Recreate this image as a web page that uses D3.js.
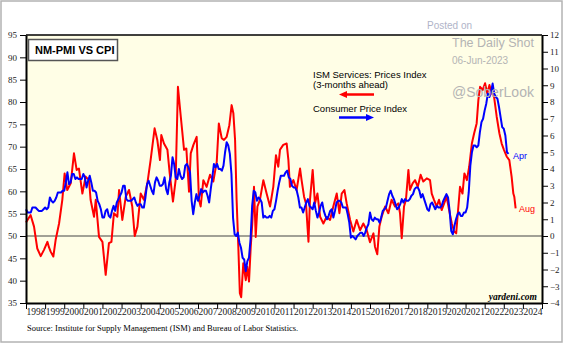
<!DOCTYPE html>
<html lang="en">
<head>
<meta charset="UTF-8">
<title>NM-PMI vs CPI</title>
<script src="https://d3js.org/d3.v7.min.js"></script>
<style>
  body { margin: 0; background: #fff; }
  .sans { font-family: "Liberation Sans", Arial, sans-serif; }
  .serif { font-family: "Liberation Serif", "Times New Roman", serif; }
  .axis text { font-family: "Liberation Serif", "Times New Roman", serif; font-size: 9px; fill: #222; }
  .axis path, .axis line { stroke: #000; }
</style>
</head>
<body>
<svg id="chart" width="564" height="344"></svg>
<script>
// ISM Services: Prices Index, shifted 3 months ahead  [decimal year, index]
const ismPrices = [
  [1998.00,53.0],[1998.24,54.7],[1998.42,52.1],[1998.59,47.2],[1998.77,45.5],[1998.94,46.9],
  [1999.12,48.7],[1999.20,47.5],[1999.29,46.5],[1999.43,45.4],[1999.55,49.1],[1999.73,52.8],[1999.90,58.1],
  [2000.02,64.0],[2000.16,60.3],[2000.34,61.8],[2000.51,68.5],[2000.65,64.8],[2000.77,65.1],[2000.95,59.5],
  [2001.12,63.3],[2001.30,62.5],[2001.38,58.1],[2001.56,54.3],[2001.65,58.1],[2001.82,49.8],
  [2002.00,48.7],[2002.17,41.3],[2002.34,48.4],[2002.47,48.7],[2002.60,55.1],[2002.78,54.3],[2002.87,60.3],
  [2003.04,53.6],[2003.22,58.8],[2003.39,60.3],[2003.56,56.6],[2003.69,50.0],[2003.83,52.1],
  [2004.00,59.5],[2004.17,58.1],[2004.35,61.8],[2004.52,67.0],[2004.73,74.1],[2004.87,71.5],
  [2005.01,67.0],[2005.08,72.6],[2005.22,70.7],[2005.40,69.3],[2005.52,64.0],[2005.69,57.7],[2005.83,62.5],[2005.95,83.4],
  [2006.10,76.7],[2006.27,69.3],[2006.39,69.6],[2006.53,59.9],[2006.62,68.5],[2006.76,70.4],[2006.93,72.2],
  [2007.05,58.1],[2007.14,56.6],[2007.28,62.5],[2007.45,61.0],[2007.63,63.7],[2007.80,62.2],[2007.98,66.6],
  [2008.09,75.2],[2008.24,71.9],[2008.36,71.5],[2008.50,72.2],[2008.64,74.8],[2008.76,79.3],[2008.85,77.5],[2008.94,71.5],
  [2009.02,58.1],[2009.11,47.6],[2009.19,37.2],[2009.26,36.3],[2009.37,43.9],[2009.50,40.1],[2009.58,43.1],
  [2009.67,39.8],[2009.76,47.6],[2009.84,52.8],[2009.93,61.0],
  [2010.02,49.8],[2010.11,56.6],[2010.24,58.1],[2010.42,62.5],[2010.59,59.5],[2010.77,56.6],[2010.94,61.0],
  [2011.08,68.1],[2011.20,65.5],[2011.29,69.3],[2011.46,70.4],[2011.64,70.7],[2011.73,67.0],[2011.81,61.0],[2011.99,62.5],
  [2012.16,60.3],[2012.34,65.1],[2012.42,62.5],[2012.55,58.8],[2012.65,57.3],[2012.78,48.7],[2012.86,58.1],
  [2013.00,64.8],[2013.12,57.3],[2013.25,59.5],[2013.39,54.3],[2013.56,52.8],[2013.73,54.3],[2013.91,53.6],
  [2014.08,56.6],[2014.26,59.5],[2014.40,55.1],[2014.52,59.5],[2014.66,60.3],[2014.78,57.3],[2014.96,53.6],
  [2015.13,51.0],[2015.30,53.6],[2015.48,51.3],[2015.65,52.8],[2015.83,51.3],
  [2016.00,48.6],[2016.18,50.6],[2016.26,47.6],[2016.38,45.9],[2016.49,52.1],[2016.61,54.3],[2016.79,56.6],[2016.96,55.1],
  [2017.13,58.1],[2017.31,56.6],[2017.48,57.3],[2017.57,55.1],[2017.66,49.5],[2017.78,56.6],[2017.88,58.1],
  [2018.01,64.8],[2018.09,60.3],[2018.23,61.8],[2018.36,62.5],[2018.50,61.0],[2018.65,63.7],[2018.79,62.2],[2018.97,62.9],
  [2019.14,62.5],[2019.23,59.5],[2019.35,58.1],[2019.49,56.6],[2019.61,58.1],[2019.75,55.8],[2019.88,57.3],
  [2020.01,58.8],[2020.14,55.8],[2020.28,52.8],[2020.40,51.0],[2020.51,50.6],[2020.58,54.3],[2020.71,61.0],[2020.84,59.5],[2020.94,64.0],
  [2021.07,62.5],[2021.19,65.5],[2021.33,70.7],[2021.45,73.0],[2021.58,75.2],[2021.67,80.4],[2021.76,83.4],[2021.90,82.7],
  [2022.02,84.2],[2022.14,81.9],[2022.25,83.8],[2022.37,81.9],[2022.49,81.2],[2022.63,76.7],[2022.77,73.0],[2022.89,70.7],
  [2023.01,69.3],[2023.15,67.8],[2023.29,67.0],[2023.41,63.3],[2023.50,59.5],[2023.55,58.8],[2023.62,56.2]
];

// CPI, all items, yearly % change, monthly from Jan 1998 to Apr 2023
const cpiStart = 1998;
const cpiYoY = [
  1.6,1.4,1.4,1.4,1.7,1.7,1.7,1.6,1.5,1.5,1.5,1.6,
  1.7,1.6,1.7,2.3,2.1,2.0,2.1,2.3,2.6,2.6,2.6,2.7,
  2.7,3.2,3.8,3.1,3.2,3.7,3.7,3.4,3.5,3.4,3.4,3.4,
  3.7,3.5,2.9,3.3,3.6,3.2,2.7,2.7,2.6,2.1,1.9,1.6,
  1.1,1.1,1.5,1.6,1.2,1.1,1.5,1.8,1.5,2.0,2.2,2.4,
  2.6,3.0,3.0,2.2,2.1,2.1,2.1,2.2,2.3,2.0,1.8,1.9,
  1.9,1.7,1.7,2.3,3.1,3.3,3.0,2.7,2.5,3.2,3.5,3.3,
  3.0,3.0,3.1,3.5,2.8,2.5,3.2,3.6,4.7,4.3,3.5,3.4,
  4.0,3.6,3.4,3.5,4.2,4.3,4.1,3.8,2.1,1.3,2.0,2.5,
  2.1,2.4,2.8,2.6,2.7,2.7,2.4,2.0,2.8,3.5,4.3,4.1,
  4.3,4.0,4.0,3.9,4.2,5.0,5.6,5.4,4.9,3.7,1.1,0.1,
  0.0,0.2,-0.4,-0.7,-1.3,-1.4,-2.1,-1.5,-1.3,-0.2,1.8,2.7,
  2.6,2.1,2.3,2.2,2.0,1.1,1.2,1.1,1.1,1.2,1.1,1.5,
  1.6,2.1,2.7,3.2,3.6,3.6,3.6,3.8,3.9,3.5,3.4,3.0,
  2.9,2.9,2.7,2.3,1.7,1.7,1.4,1.7,2.0,2.2,1.8,1.7,
  1.6,2.0,1.5,1.1,1.4,1.8,2.0,1.5,1.2,1.0,1.2,1.5,
  1.6,1.1,1.5,2.0,2.1,2.1,2.0,1.7,1.7,1.7,1.3,0.8,
  -0.1,0.0,-0.1,-0.2,0.0,0.1,0.2,0.2,0.0,0.2,0.5,0.7,
  1.4,1.0,0.9,1.1,1.0,1.0,0.8,1.1,1.5,1.6,1.7,2.1,
  2.5,2.7,2.4,2.2,1.9,1.6,1.7,1.9,2.2,2.0,2.2,2.1,
  2.1,2.2,2.4,2.5,2.8,2.9,2.9,2.7,2.3,2.5,2.2,1.9,
  1.6,1.5,1.9,2.0,1.8,1.6,1.8,1.7,1.7,1.8,2.1,2.3,
  2.5,2.3,1.5,0.3,0.1,0.6,1.0,1.3,1.4,1.2,1.2,1.4,
  1.4,1.7,2.6,4.2,5.0,5.4,5.4,5.3,5.4,6.2,6.8,7.0,
  7.5,7.9,8.5,8.3,8.6,9.1,8.5,8.3,8.2,7.7,7.1,6.5,
  6.4,6.0,5.0,4.9
];

const years = d3.range(1998, 2025);
const leftTicks = d3.range(35, 96, 5);
const rightTicks = d3.range(-4, 13, 1);

const svg = d3.select("#chart");
const plot = { left: 26, right: 542, top: 35, bottom: 303 };

const x = d3.scaleLinear().domain([1998, 2025]).range([plot.left, plot.right]);
const yL = d3.scaleLinear().domain([35, 95]).range([plot.bottom, plot.top]);
const yR = d3.scaleLinear().domain([-4, 12]).range([plot.bottom, plot.top]);

// outer frame
svg.append("rect")
  .attr("x", 1).attr("y", 1).attr("width", 561).attr("height", 341)
  .attr("fill", "#fff").attr("stroke", "#b3b3b3").attr("stroke-width", 1.5);

// plot background
svg.append("rect")
  .attr("x", plot.left).attr("y", plot.top)
  .attr("width", plot.right - plot.left).attr("height", plot.bottom - plot.top)
  .attr("fill", "#fffee6");

// 50 reference line
svg.append("line")
  .attr("x1", plot.left).attr("x2", plot.right)
  .attr("y1", yL(50)).attr("y2", yL(50))
  .attr("stroke", "#444").attr("stroke-width", 1);

// series
const redLine = d3.line().x(d => x(d[0])).y(d => yL(d[1]));
svg.append("path").datum(ismPrices)
  .attr("d", redLine)
  .attr("fill", "none").attr("stroke", "#ff0000").attr("stroke-width", 2)
  .attr("stroke-linejoin", "round");

const blueLine = d3.line().x((d, i) => x(cpiStart + i / 12)).y(d => yR(d));
svg.append("path").datum(cpiYoY)
  .attr("d", blueLine)
  .attr("fill", "none").attr("stroke", "#0000ff").attr("stroke-width", 2)
  .attr("stroke-linejoin", "round");

// top border
svg.append("line")
  .attr("x1", plot.left).attr("x2", plot.right)
  .attr("y1", plot.top).attr("y2", plot.top)
  .attr("stroke", "#000").attr("stroke-width", 1.5);

// axes
svg.append("g").attr("class", "axis")
  .attr("transform", `translate(${plot.left},0)`)
  .call(d3.axisLeft(yL).tickValues(leftTicks).tickSize(6).tickSizeOuter(0).tickPadding(3))
  .call(g => g.select(".domain").attr("stroke-width", 2));

svg.append("g").attr("class", "axis")
  .attr("transform", `translate(${plot.right},0)`)
  .call(d3.axisRight(yR).tickValues(rightTicks).tickSize(6).tickSizeOuter(0).tickPadding(2))
  .call(g => g.select(".domain").attr("stroke-width", 2));

svg.append("g").attr("class", "axis")
  .attr("transform", `translate(0,${plot.bottom})`)
  .call(d3.axisBottom(x).tickValues(d3.range(1998, 2026)).tickSize(6).tickSizeOuter(0).tickFormat(""))
  .call(g => g.select(".domain").attr("stroke-width", 2));

svg.append("g").attr("class", "axis")
  .attr("transform", `translate(0,${plot.bottom})`)
  .call(d3.axisBottom(x).tickValues(years.map(y => y + 0.5)).tickSize(0).tickPadding(5)
    .tickFormat(d => String(Math.floor(d))))
  .call(g => g.select(".domain").remove())
  .call(g => g.selectAll("text").style("font-size", "9.5px"));

// title box
svg.append("rect")
  .attr("x", 28.5).attr("y", 39.5).attr("width", 89).attr("height", 21)
  .attr("fill", "#fff").attr("stroke", "#555").attr("stroke-width", 1.5);
svg.append("text").attr("class", "sans")
  .attr("x", 35).attr("y", 54)
  .attr("font-size", 11).attr("font-weight", "bold").attr("fill", "#000")
  .text("NM-PMI VS CPI");

// legend
const legend = svg.append("g").attr("class", "sans").attr("font-size", 9.5).attr("fill", "#000");
legend.append("text").attr("x", 313).attr("y", 77.5).text("ISM Services: Prices Index");
legend.append("text").attr("x", 313).attr("y", 87.5).text("(3-months ahead)");
legend.append("text").attr("x", 313).attr("y", 111.5).text("Consumer Price Index");

function arrow(x1, x2, y, color, dir) {
  const tip = dir < 0 ? x1 : x2;
  const base = tip - dir * 8;
  svg.append("line")
    .attr("x1", dir < 0 ? base : x1).attr("x2", dir < 0 ? x2 : base)
    .attr("y1", y).attr("y2", y)
    .attr("stroke", color).attr("stroke-width", 2.5);
  svg.append("path")
    .attr("d", `M${tip},${y} L${base},${y - 3.5} L${base},${y + 3.5} Z`)
    .attr("fill", color);
}
arrow(339, 374, 94.5, "#ff0000", -1);
arrow(339, 374, 117.5, "#0000ff", 1);

// end labels
svg.append("text").attr("class", "sans").attr("x", 513).attr("y", 158.5).attr("font-size", 9).attr("fill", "#0000ff").text("Apr");
svg.append("text").attr("class", "sans").attr("x", 519).attr("y", 211.5).attr("font-size", 9).attr("fill", "#ff0000").text("Aug");

// watermark
const wm = svg.append("g").attr("class", "sans");
wm.append("text").attr("x", 427).attr("y", 29).attr("font-size", 10).attr("fill", "#b0b4c8").text("Posted on");
wm.append("text").attr("x", 452).attr("y", 46.5).attr("font-size", 12.5).attr("fill", "#b4b4b4").text("The Daily Shot");
wm.append("text").attr("x", 452).attr("y", 64).attr("font-size", 10).attr("fill", "#b4b4b4").text("06-Jun-2023");
wm.append("text").attr("x", 452).attr("y", 96.5).attr("font-size", 14).attr("fill", "#b4b4b4").text("@SoberLook");

// credit and source
svg.append("text").attr("class", "serif").attr("x", 537).attr("y", 300).attr("text-anchor", "end")
  .attr("font-size", 9.5).attr("font-weight", "bold").attr("font-style", "italic").attr("fill", "#000")
  .text("yardeni.com");
svg.append("text").attr("class", "serif").attr("x", 27).attr("y", 331)
  .attr("font-size", 8.5).attr("fill", "#000")
  .text("Source: Institute for Supply Management (ISM) and Bureau of Labor Statistics.");
</script>
</body>
</html>
